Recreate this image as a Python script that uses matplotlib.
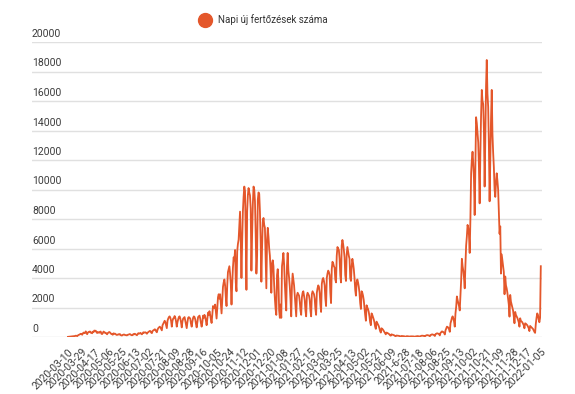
import numpy as np
import matplotlib
matplotlib.use('Agg')
import matplotlib.pyplot as plt
from matplotlib import transforms
from matplotlib.lines import Line2D

plt.rcParams['font.family'] = ['Roboto', 'DejaVu Sans']

# Daily new infections, grouped by period
spring_2020 = [
    10, 15, 20, 25, 30, 40, 35,
    45, 50, 60, 70, 90, 80, 60,
    110, 140, 160, 190, 220, 200, 150,
    250, 300, 260, 290, 380, 260, 190,
    300, 340, 360, 370, 290, 300, 250,
    360, 330, 440, 400, 430, 330, 270,
    340, 300, 290, 350, 370, 220, 200,
    260, 370, 330, 280, 290, 230, 180,
    270, 300, 340, 310, 260, 200, 190,
    150, 250, 210, 230, 200, 150, 140,
    160, 190, 170, 200, 130, 110, 100,
    140, 160, 170, 140, 130, 120, 110,
    150, 160, 180, 200, 170, 130, 120,
    130, 200, 180, 220, 190, 150, 120,
]
summer_2020 = [
    200, 260, 230, 240, 280, 220, 180,
    250, 320, 290, 310, 320, 280, 220,
    300, 330, 370, 410, 400, 300, 260,
    400, 450, 480, 520, 500, 380, 320,
    500, 600, 650, 700, 650, 550, 450,
    800, 900, 1000, 1100, 1000, 800, 600,
    1100, 1250, 1350, 1400, 1300, 1100, 700,
    1100, 1250, 1300, 1420, 1300, 1050, 700,
    1000, 1200, 1350, 1400, 1250, 1000, 650,
    1050, 1250, 1300, 1350, 1100, 850, 600,
    1000, 1300, 1350, 1300, 1250, 900, 700,
    1050, 1300, 1400, 1350, 1200, 900, 650,
    1000, 1350, 1400, 1450, 1250, 950, 700,
    1000, 1450, 1300, 1500, 1350, 1100, 800,
    1250, 1650, 1500, 1750, 1500, 1200, 950,
]
autumn_2020 = [
    1500, 2100, 2000, 1950, 2200, 1700, 1250,
    2000, 2700, 2900, 2600, 2900, 2200, 1600,
    2500, 3400, 3700, 3900, 3500, 2700, 2100,
    3500, 4400, 4600, 4800, 4300, 3600, 2200,
    3600, 4700, 5400, 5200, 5900, 3700, 3100,
    5800, 6300, 6600, 7600, 8500, 6500, 4000,
    6500, 8500, 9500, 10200, 9900, 7000, 3200,
    8500, 9600, 10100, 9800, 9600, 8700, 4500,
    7000, 9000, 10200, 10000, 9200, 7000, 4300,
    5500, 9300, 9800, 9700, 8500, 6500, 3750,
    6100, 7800, 8070, 7600, 7400, 5200, 3300,
    6600, 7400, 6800, 6000, 5500, 4500, 3000,
    5000, 5200, 4800, 3500, 2600, 1900, 1500,
    4200, 4600, 3800, 1800, 1300, 2200, 1300,
]
winter_spring_2021 = [
    4800, 5200, 5700, 4900, 3600, 2600, 1800,
    4800, 5700, 4500, 4000, 3400, 2500, 1400,
    3500, 4300, 3900, 3500, 2800, 2100, 1400,
    2800, 3000, 2900, 2800, 2400, 1800, 1500,
    2700, 3000, 3100, 2800, 2500, 1800, 1400,
    2800, 3000, 2900, 2800, 2500, 1800, 1400,
    2900, 3100, 3000, 2900, 2600, 1900, 1500,
    3000, 3300, 3500, 3400, 3000, 2200, 1700,
    3600, 3900, 4000, 3800, 3500, 2600, 2100,
    4000, 4300, 4500, 4400, 4200, 3000, 2300,
    4600, 5100, 5000, 4800, 4700, 3900, 3700,
    5500, 6100, 6000, 5900, 5300, 4200, 3700,
    6200, 6580, 6300, 5900, 5400, 4200, 3800,
    5600, 6100, 5800, 5500, 5300, 4000, 3800,
    4800, 5300, 5000, 4600, 4000, 3200, 2800,
    3700, 3900, 3700, 3400, 3000, 2300, 1900,
    3100, 3000, 2800, 2500, 2000, 1500, 1100,
]
summer_2021 = [
    2150, 2000, 1900, 1700, 1400, 1000, 800,
    1600, 1500, 1350, 1200, 1000, 700, 550,
    1040, 950, 850, 750, 600, 400, 300,
    590, 550, 500, 420, 350, 250, 180,
    300, 280, 250, 220, 180, 120, 90,
    180, 160, 150, 130, 110, 70, 50,
    100, 95, 90, 80, 70, 40, 30,
    70, 65, 60, 55, 50, 25, 20,
    50, 55, 50, 45, 35, 20, 45,
    45, 50, 45, 40, 30, 15, 40,
    50, 55, 60, 50, 40, 25, 60,
    80, 90, 85, 80, 60, 35, 90,
    110, 130, 120, 110, 90, 50, 140,
    150, 180, 170, 150, 120, 70, 200,
    220, 250, 240, 220, 180, 110, 280,
    330, 380, 360, 330, 280, 170, 450,
]
autumn_2021 = [
    580, 700, 680, 620, 520, 350, 930,
    1100, 1300, 1400, 1250, 1050, 700, 1600,
    2050, 2750, 2500, 2300, 2100, 1800, 2900,
    3860, 5300, 4800, 4500, 4000, 3300, 4900,
    6200, 6800, 7600, 7400, 6900, 5700, 8000,
    11100, 12000, 12560, 11800, 10700, 8270, 11500,
    14900, 14500, 13800, 13200, 11500, 9060, 12400,
    15000, 16750, 16000, 15800, 14000, 10200, 13500,
    17000, 18780, 16500, 15600, 13000, 9200, 12000,
    14800, 16750, 13800, 12500, 11500, 10000, 9500,
    10500, 11100, 10600, 10000, 8500, 7000, 7500,
    4300, 5600, 5200, 4800, 4400, 2900, 4100,
    3500, 3300, 3000, 2600, 2200, 1380, 2850,
    2400, 2200, 2000, 1800, 1400, 930, 1700,
    1500, 1400, 1300, 1150, 1000, 700, 1270,
    1100, 1050, 1000, 900, 800, 590, 930,
    900, 850, 800, 700, 600, 400, 750,
    700, 650, 600, 550, 450, 350, 280,
    900, 1300, 1600, 1500, 1200, 1000, 1300,
    4800,
]

cases = spring_2020 + summer_2020 + autumn_2020 + winter_spring_2021 + summer_2021 + autumn_2021

tick_labels = [
    '2020-03-10', '2020-03-29', '2020-04-17', '2020-05-06', '2020-05-25', '2020-06-13',
    '2020-07-02', '2020-07-21', '2020-08-09', '2020-08-28', '2020-09-16', '2020-10-05',
    '2020-10-24', '2020-11-12', '2020-12-01', '2020-12-20', '2021-01-08', '2021-01-27',
    '2021-02-15', '2021-03-06', '2021-03-25', '2021-04-13', '2021-05-02', '2021-05-21',
    '2021-06-09', '2021-6-28', '2021-07-18', '2021-08-06', '2021-08-25', '2021-09-13',
    '2021-10-02', '2021-10-21', '2021-11-09', '2021-11-28', '2021-12-17', '2022-01-05',
]
tick_step = 19
y_ticks = [0, 2000, 4000, 6000, 8000, 10000, 12000, 14000, 16000, 18000, 20000]
series_name = 'Napi új fertőzések száma'

LINE = '#E4572B'
TEXT = '#3c3c3c'
GRID = '#e0e0e0'

W, H = 575, 394
fig = plt.figure(figsize=(W / 100, H / 100), dpi=100)
ax = fig.add_axes([32 / W, (H - 337) / H, 510 / W, 295 / H])

x = np.arange(len(cases))
ax.plot(x, cases, color=LINE, lw=1.3, solid_joinstyle='round')
ax.set_ylim(0, 20000)
ax.set_xlim(-50.6, 666.7)
for s in ax.spines.values():
    s.set_visible(False)

ax.set_yticks(y_ticks)
ax.yaxis.grid(True, color=GRID, lw=1)
ax.set_axisbelow(True)
ax.tick_params(axis='y', length=0, labelleft=False)
trans = transforms.offset_copy(ax.get_yaxis_transform(), fig=fig, x=0, y=3, units='dots')
for v in y_ticks:
    ax.text(0, v, str(v), transform=trans, ha='left', va='bottom', fontsize=7.5, color=TEXT)

ax.set_xticks(np.arange(len(tick_labels)) * tick_step)
ax.set_xticklabels(tick_labels, rotation=45, ha='right', va='top',
                   rotation_mode='anchor', fontsize=7.5, color=TEXT)
ax.tick_params(axis='x', length=0, pad=7)

fig.add_artist(Line2D([205 / W], [1 - 20 / H], marker='o', markersize=10, color=LINE,
                      linestyle='none', transform=fig.transFigure))
fig.text(218 / W, 1 - 20 / H, series_name, va='center', ha='left', fontsize=7, color='#333333')

fig.savefig('out.png', dpi=100)
